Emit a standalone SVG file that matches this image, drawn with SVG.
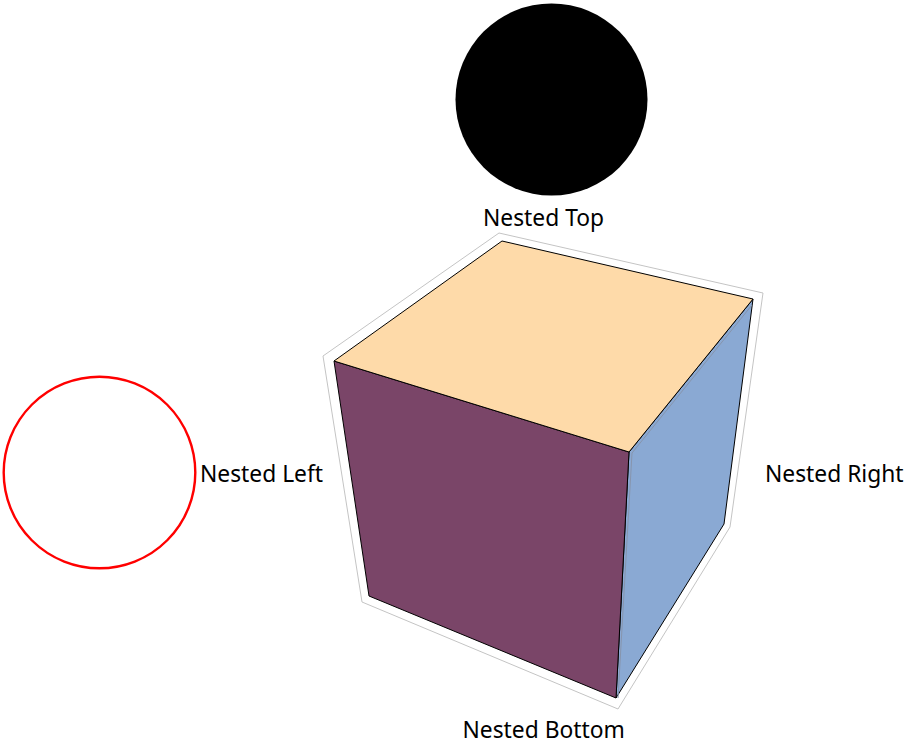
<svg xmlns="http://www.w3.org/2000/svg" width="905" height="747" viewBox="0 0 905 747">
<style>
.lbl{font-family:"Noto Sans","Open Sans",sans-serif;font-size:22.8px;fill:#000}
.box{fill:none;stroke:#c4c4c4;stroke-width:1;stroke-linejoin:round}
.face{stroke:#000;stroke-width:1;stroke-linejoin:round}
</style>
<rect width="905" height="747" fill="#fff"/>
<g id="node-top">
<circle cx="551.5" cy="99.5" r="96" fill="#000"/>
<text class="lbl" x="483" y="226">Nested Top</text>
</g>
<g id="node-left">
<circle cx="99.5" cy="472.5" r="95.8" fill="#fff" stroke="#f00" stroke-width="2.4"/>
<text class="lbl" x="200" y="482">Nested Left</text>
</g>
<g id="node-right">
<text class="lbl" x="765" y="482">Nested Right</text>
</g>
<g id="node-bottom">
<text class="lbl" x="462.5" y="738">Nested Bottom</text>
</g>
<g id="node-cube">
<polygon class="box" points="499,233 763,293 730,527 618,709 362,602 323,356"/>
<polygon class="face" fill="#8aa9d3" points="629,452 753,299 724,524 616,698"/>
<polygon class="face" fill="#7a4568" points="334,361 629,452 616,698 369,596"/>
<polygon class="face" fill="#fedaa9" points="502,241 753,299 629,452 334,361"/>
<polyline fill="none" stroke="#8795ad" stroke-width="1" points="752,305 632,453 618,698"/>
</g>
</svg>
